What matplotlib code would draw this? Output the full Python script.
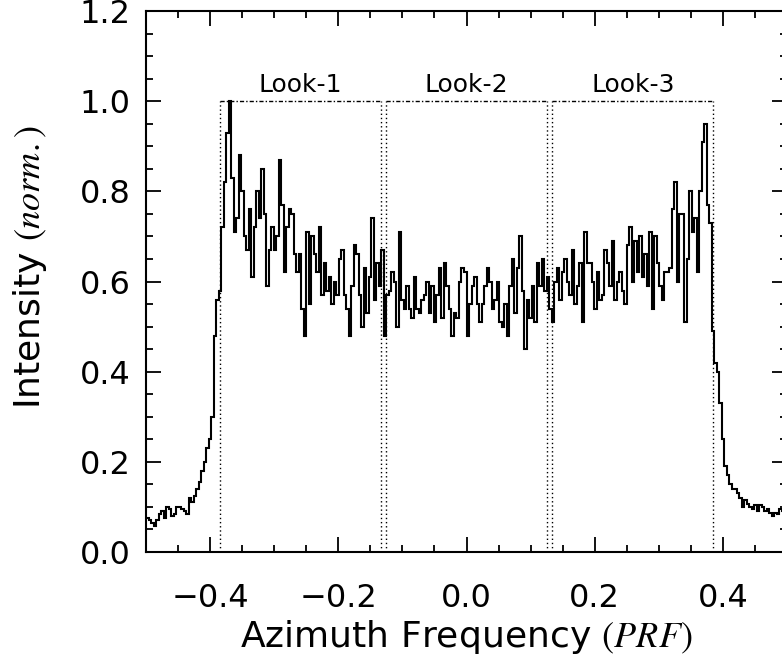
import numpy as np
import matplotlib
matplotlib.use('Agg')
import matplotlib.pyplot as plt

# azimuth spectrum (256 bins from -0.5 to 0.5 PRF)
left_tail = [0.075, 0.07, 0.065, 0.058, 0.07, 0.085, 0.09, 0.075, 0.10, 0.095,
             0.08, 0.085, 0.10, 0.10, 0.095, 0.09, 0.085, 0.12, 0.11, 0.125,
             0.14, 0.155, 0.18, 0.20, 0.23, 0.25, 0.30, 0.48, 0.56, 0.58]
look1_part = [0.72, 0.82, 0.93, 1.00, 0.83, 0.71, 0.74, 0.88, 0.80, 0.70,
              0.67, 0.76, 0.61, 0.72, 0.80, 0.74, 0.85, 0.75, 0.59, 0.67,
              0.72, 0.67, 0.70, 0.87, 0.77, 0.62, 0.72, 0.76, 0.75, 0.66,
              0.62, 0.66, 0.54, 0.48, 0.71, 0.55, 0.70, 0.66, 0.62, 0.72,
              0.57, 0.64, 0.58, 0.61, 0.55, 0.60, 0.57, 0.65, 0.67, 0.57,
              0.54, 0.48, 0.59, 0.68, 0.66, 0.57, 0.50, 0.63, 0.53, 0.61,
              0.74, 0.56, 0.64, 0.59, 0.67, 0.48]
look2_part = [0.57, 0.58, 0.62, 0.60, 0.50, 0.71, 0.56, 0.54, 0.59, 0.54,
              0.52, 0.61, 0.54, 0.53, 0.56, 0.57, 0.60, 0.53, 0.59, 0.51,
              0.57, 0.63, 0.52, 0.64, 0.59, 0.54, 0.48, 0.53, 0.52, 0.60,
              0.63, 0.62, 0.48, 0.55, 0.59, 0.61, 0.55, 0.51, 0.55, 0.59,
              0.63, 0.60, 0.54, 0.56, 0.60, 0.51, 0.50, 0.55, 0.48, 0.59,
              0.65, 0.53, 0.63, 0.70, 0.58, 0.45, 0.56, 0.52, 0.59, 0.51,
              0.64, 0.59, 0.65, 0.58]
look3_part = [0.61, 0.54, 0.51, 0.60, 0.63, 0.56, 0.62, 0.65, 0.60, 0.57,
              0.67, 0.55, 0.59, 0.64, 0.51, 0.71, 0.64, 0.64, 0.60, 0.54,
              0.62, 0.56, 0.57, 0.67, 0.64, 0.59, 0.69, 0.56, 0.60, 0.62,
              0.58, 0.55, 0.68, 0.72, 0.60, 0.69, 0.62, 0.70, 0.61, 0.66,
              0.59, 0.71, 0.54, 0.70, 0.64, 0.59, 0.56, 0.62, 0.62, 0.63,
              0.76, 0.82, 0.60, 0.75, 0.75, 0.51, 0.65, 0.80, 0.71, 0.74,
              0.62, 0.80, 0.91, 0.95, 0.77, 0.73, 0.49]
right_tail = [0.42, 0.40, 0.33, 0.25, 0.19, 0.17, 0.15, 0.14, 0.14, 0.13,
              0.12, 0.10, 0.115, 0.107, 0.10, 0.095, 0.105, 0.09, 0.105, 0.10,
              0.09, 0.095, 0.087, 0.08, 0.087, 0.084, 0.095, 0.09, 0.085]

# the three looks (start, end in PRF) and their names
look_start = [-0.385, -0.125, 0.134]
look_end = [-0.134, 0.125, 0.385]
look_names = ['Look-1', 'Look-2', 'Look-3']

intensity = left_tail + look1_part + look2_part + look3_part + right_tail
edges = np.linspace(-0.5, 0.5, len(intensity) + 1)

plt.rcParams['font.family'] = 'DejaVu Sans'
plt.rcParams['mathtext.fontset'] = 'stix'

fig = plt.figure(figsize=(7.82, 6.61), dpi=100)
ax = fig.add_axes([146 / 782, 109 / 661, 641 / 782, 541 / 661])

ax.stairs(intensity, edges, baseline=None, color='black', lw=1.5)

# look boxes: dotted sides, dash-dot top
for s, e, name in zip(look_start, look_end, look_names):
    ax.plot([s, s], [0, 1.0], color='black', lw=1.0, ls=(0, (1, 2)))
    ax.plot([e, e], [0, 1.0], color='black', lw=1.0, ls=(0, (1, 2)))
    ax.plot([s, e], [1.0, 1.0], color='black', lw=1.0, ls=(0, (3, 1.5, 1, 1.5)))
    ax.text((s + e) / 2, 1.02, name, ha='center', va='baseline', fontsize=18)

ax.set_xlim(-0.5, 0.5)
ax.set_ylim(0, 1.2)
ax.set_xticks([-0.4, -0.2, 0.0, 0.2, 0.4])
ax.set_yticks([0.0, 0.2, 0.4, 0.6, 0.8, 1.0, 1.2])
ax.set_xticks(np.arange(-0.5, 0.51, 0.05), minor=True)
ax.set_yticks(np.arange(0, 1.21, 0.05), minor=True)
fmt = matplotlib.ticker.FuncFormatter(lambda v, p: ('%.1f' % v).replace('-', '\u2212'))
ax.xaxis.set_major_formatter(fmt)
ax.yaxis.set_major_formatter(fmt)
ax.tick_params(which='both', direction='in', top=True, right=True, width=1.3, labelsize=23)
ax.tick_params(which='major', length=11)
ax.tick_params(which='minor', length=5)
ax.tick_params(axis='x', pad=22)
ax.tick_params(axis='y', pad=11)
for sp in ax.spines.values():
    sp.set_linewidth(1.5)

fig.text(466 / 782, 1 - 647 / 661, r'Azimuth Frequency $(\mathit{PRF})$', ha='center', va='baseline', fontsize=26)
fig.text(30 / 782, 1 - 125 / 661, r'Intensity $(\mathit{norm.})$', ha='center', va='top', rotation=90, fontsize=26)

plt.savefig('out.png', dpi=100)
